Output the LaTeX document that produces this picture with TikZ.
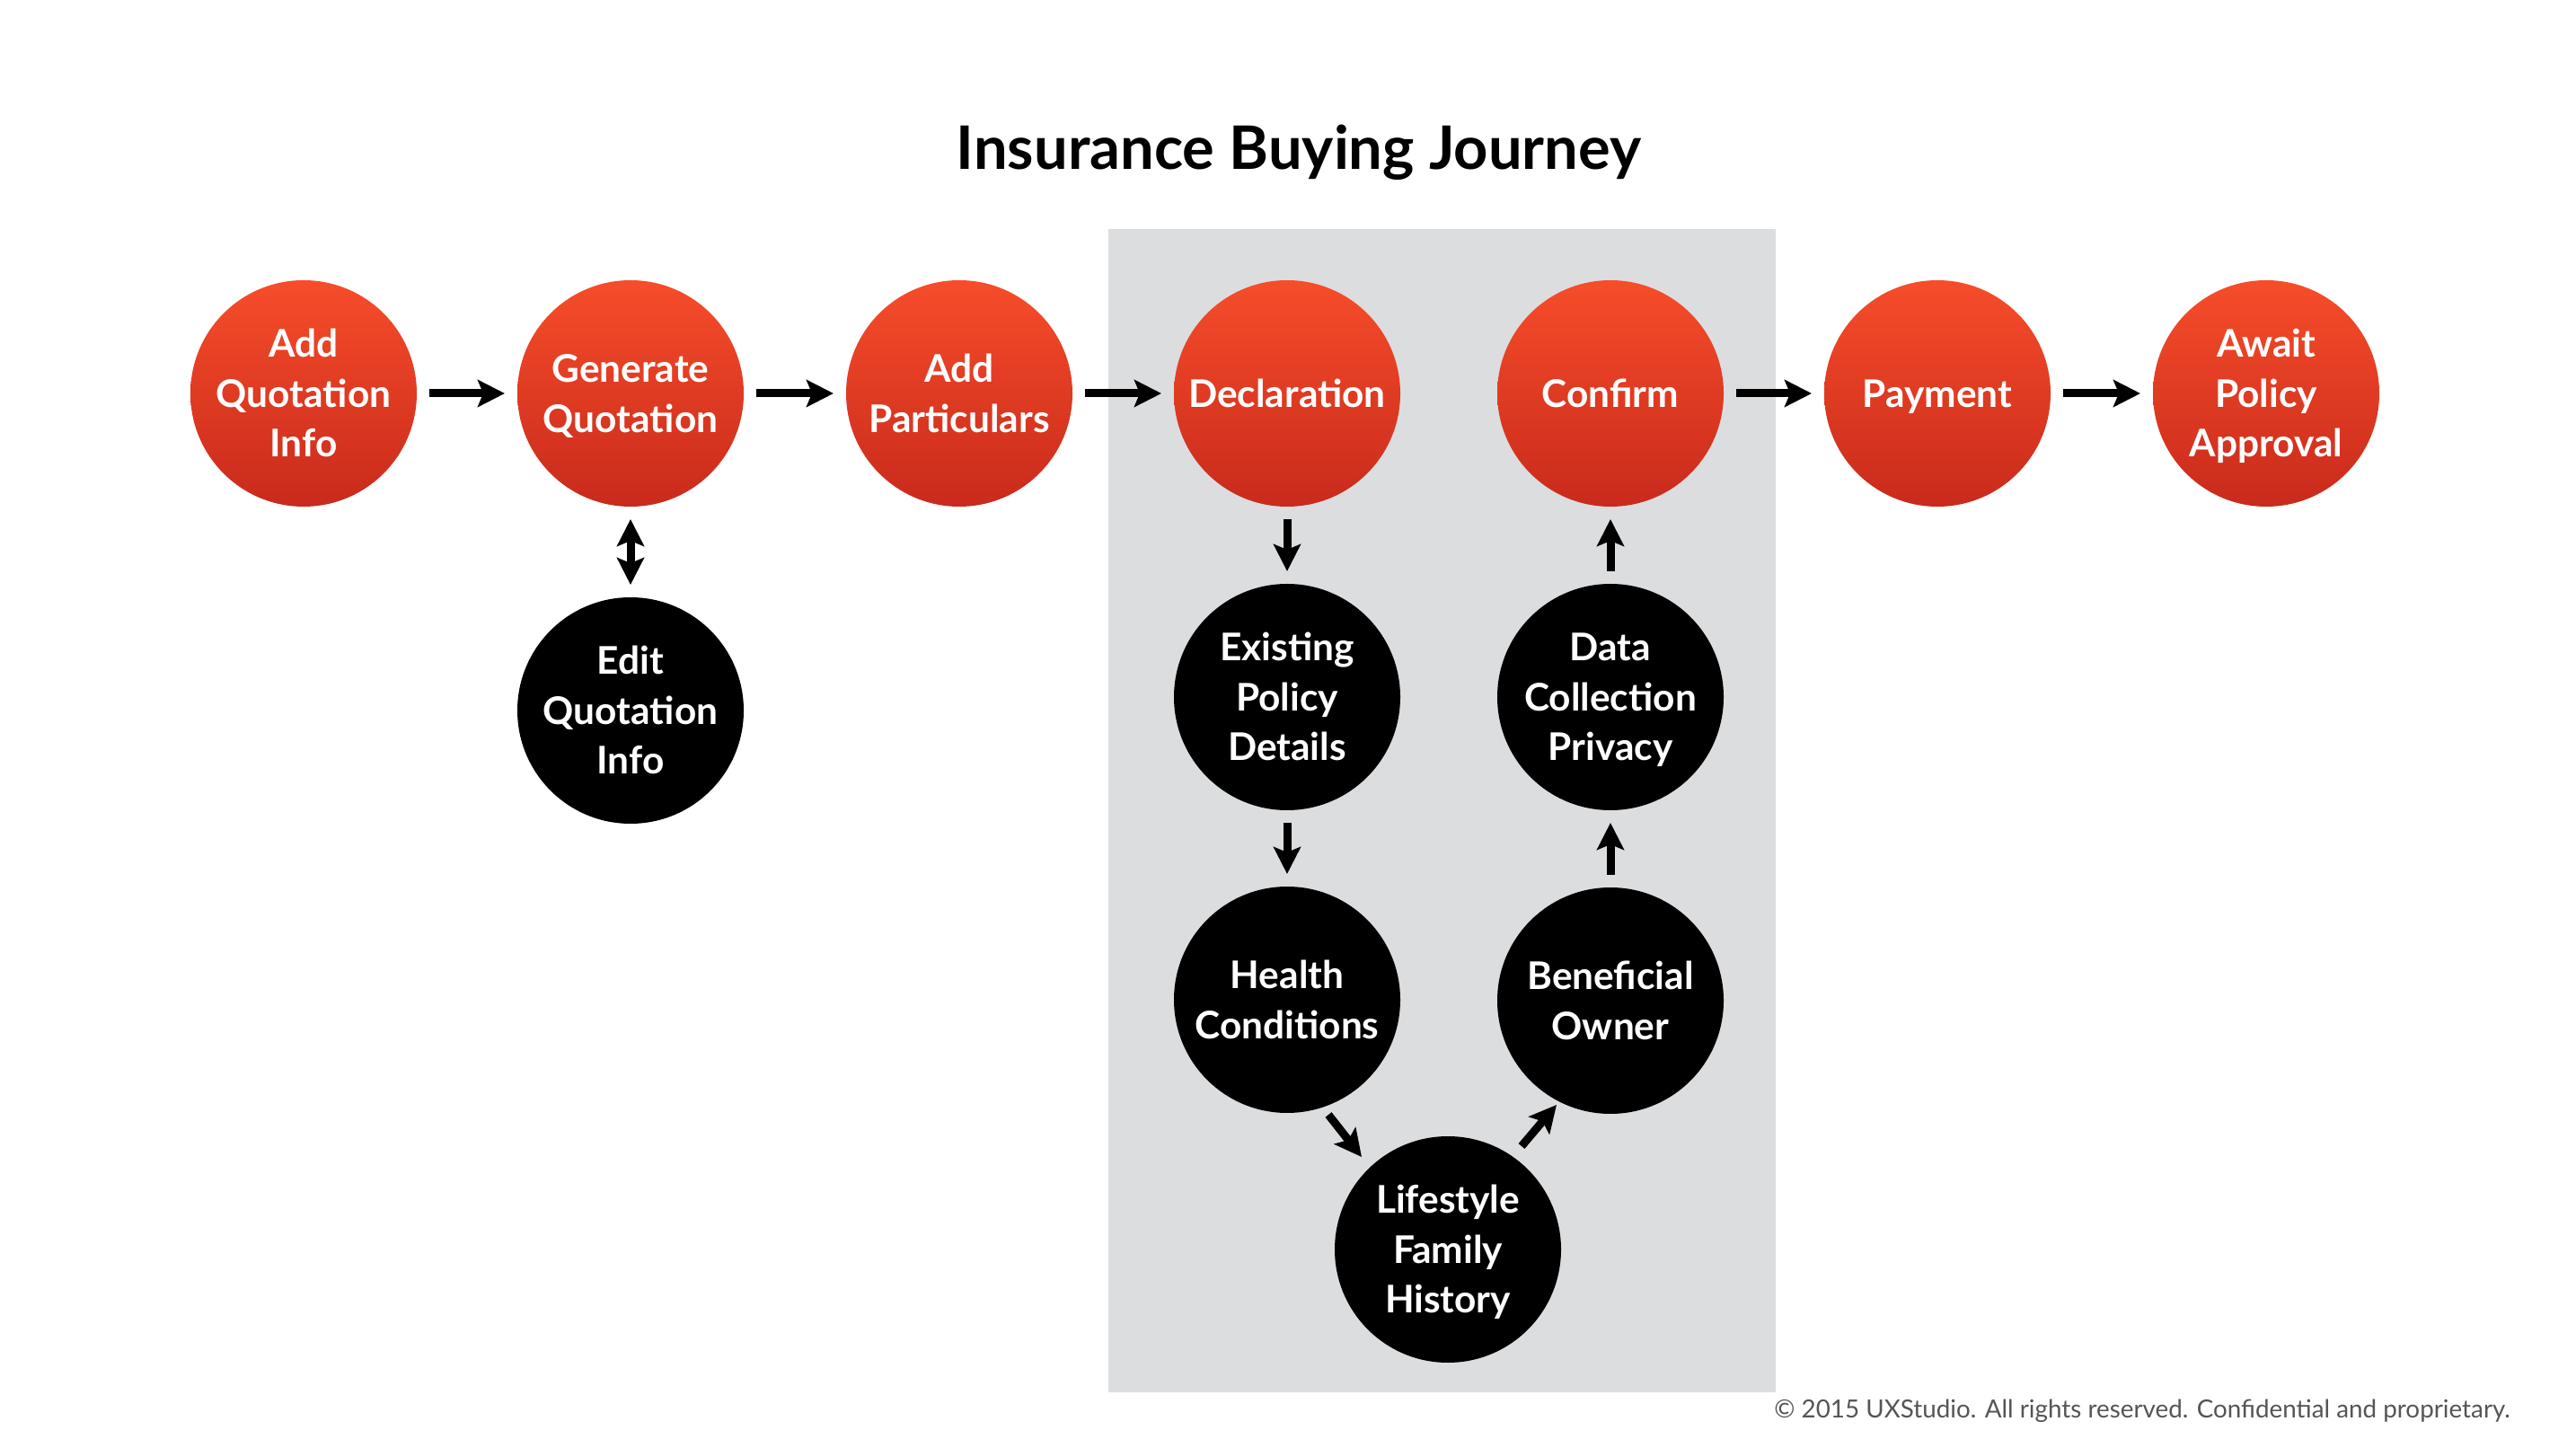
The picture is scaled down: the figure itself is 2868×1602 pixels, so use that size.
\documentclass[tikz,border=0pt]{standalone}
\usepackage{fontspec}
\setmainfont{Lato}
\usetikzlibrary{arrows.meta,calc}
\definecolor{redtop}{HTML}{F64D2A}
\definecolor{redbot}{HTML}{C92A1C}
\definecolor{panel}{HTML}{DCDDDF}
\definecolor{note}{HTML}{555555}
\newcommand\cl[1]{\raisebox{0pt}[\fontcharht\font`H][0pt]{#1}}
\begin{document}
\begin{tikzpicture}[x=0.25pt,y=-0.25pt,
  stepred/.style={circle,minimum size=63pt,inner sep=0pt,outer sep=0pt,draw=none,
    top color=redtop,bottom color=redbot,text=white,align=center,
    font=\fontsize{10.6pt}{13.9pt}\selectfont\bfseries},
  stepblack/.style={circle,minimum size=63pt,inner sep=0pt,outer sep=0pt,draw=none,
    fill=black,text=white,align=center,
    font=\fontsize{10.6pt}{13.9pt}\selectfont\bfseries},
  tip/.tip={Stealth[length=7.5pt,width=7.5pt,inset=1.5pt]},
  arr/.style={line width=2.25pt,-tip,shorten >=3.5pt,shorten <=3.5pt},
  darr/.style={line width=2.25pt,tip-tip,shorten >=3.5pt,shorten <=3.5pt},
  diag/.style={line width=2.25pt,-tip}]
\useasboundingbox (0,0) rectangle (2868,1602);
\fill[white] (0,0) rectangle (2868,1602);
\fill[panel] (1234,255) rectangle (1977,1550);

\node[anchor=base,font=\fontsize{16.7pt}{19pt}\selectfont\bfseries] (title) at (1446,189) {Insurance Buying Journey};

\node[stepred] (c1) at (338,438) {\cl{Add}\\\cl{Quotation}\\\cl{Info}};
\node[stepred] (c2) at (702,438) {\cl{Generate}\\\cl{Quotation}};
\node[stepred] (c3) at (1068,438) {\cl{Add}\\\cl{Particulars}};
\node[stepred] (c4) at (1433,438) {\cl{Declaration}};
\node[stepred] (c5) at (1793,438) {\cl{Confirm}};
\node[stepred] (c6) at (2157,438) {\cl{Payment}};
\node[stepred] (c7) at (2523,438) {\cl{Await}\\\cl{Policy}\\\cl{Approval}};

\node[stepblack] (ed) at (702,791) {\cl{Edit}\\\cl{Quotation}\\\cl{Info}};
\node[stepblack] (ex) at (1433,776) {\cl{Existing}\\\cl{Policy}\\\cl{Details}};
\node[stepblack] (dc) at (1793,776) {\cl{Data}\\\cl{Collection}\\\cl{Privacy}};
\node[stepblack] (hc) at (1433,1113) {\cl{Health}\\\cl{Conditions}};
\node[stepblack] (bo) at (1793,1114) {\cl{Beneficial}\\\cl{Owner}};
\node[stepblack] (lf) at (1612,1391) {\cl{Lifestyle}\\\cl{Family}\\\cl{History}};

\draw[arr] (c1) -- (c2);
\draw[arr] (c2) -- (c3);
\draw[arr] (c3) -- (c4);
\draw[arr] (c5) -- (c6);
\draw[arr] (c6) -- (c7);
\draw[darr] (c2) -- (ed);
\draw[arr] (c4) -- (ex);
\draw[arr] (ex) -- (hc);
\draw[diag] ($(hc)+(46,128)$) -- ($(lf)+(-96,-103)$);
\draw[diag] ($(lf)+(82,-115)$) -- ($(bo)+(-60,116)$);
\draw[arr] (bo) -- (dc);
\draw[arr] (dc) -- (c5);

\node[anchor=base east,text=note,font=\fontsize{6.95pt}{8pt}\selectfont] (copy) at (2809,1578) {© 2015 UXStudio. All rights reserved. Confidential and proprietary.};
\end{tikzpicture}
\end{document}
